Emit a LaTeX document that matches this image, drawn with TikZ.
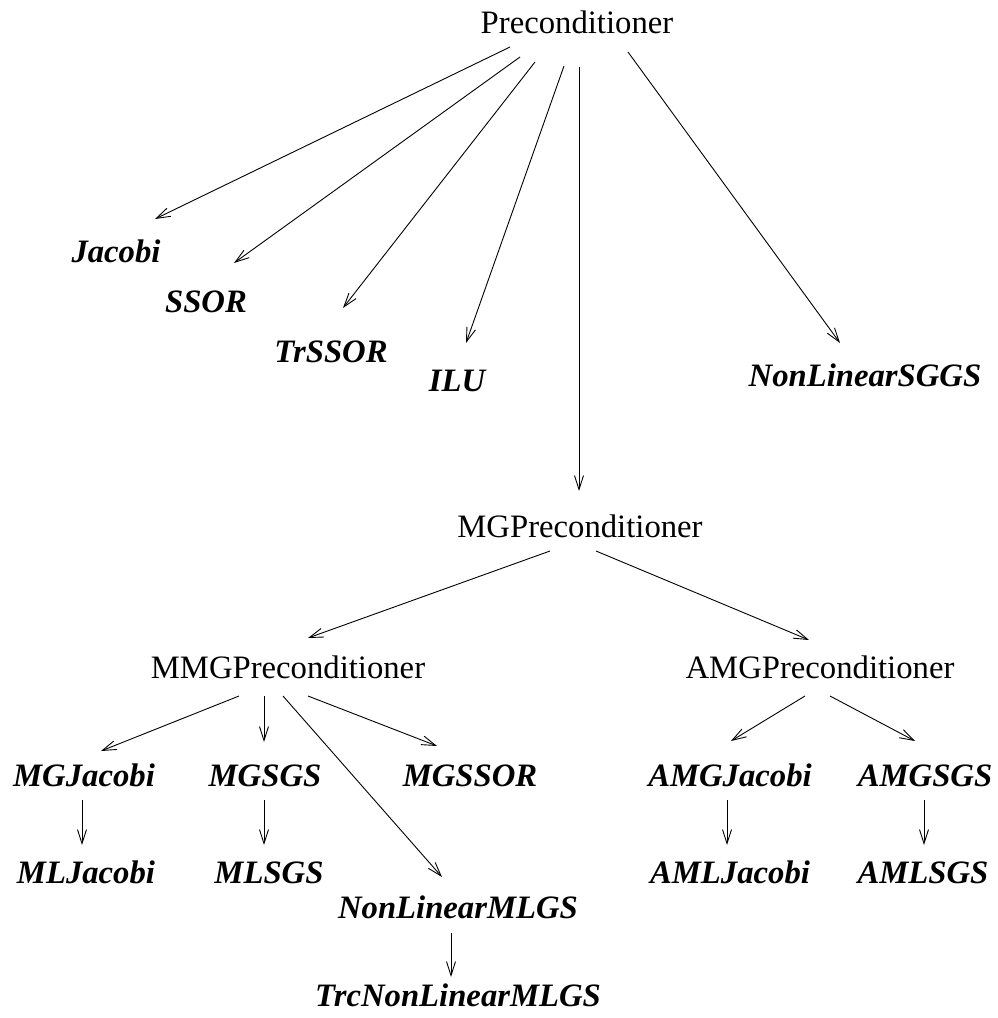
\documentclass[tikz,border=0pt]{standalone}
\usepackage{fontspec}
\setmainfont{Liberation Serif}
\usetikzlibrary{arrows.meta,calc}
\begin{document}
\begin{tikzpicture}[x=1pt,y=-1pt,
  lbl/.style={anchor=base,inner sep=0pt,font=\fontsize{32.7}{39}\selectfont},
  cls/.style={lbl,font=\fontsize{32.7}{39}\selectfont\bfseries\itshape},
  arr/.style={line width=0.9pt,-{Straight Barb[length=14pt,width=9pt,line width=0.9pt]}}]
\useasboundingbox (0,0) rectangle (998,1018);
\node[lbl] (pre) at (577,33) {Preconditioner};
\node[cls] (jac) at (116,262) {Jacobi};
\node[cls] (ssor) at (206,312) {SSOR};
\node[cls] (trssor) at (331,362) {TrSSOR};
\node[cls] (ilu) at (457,391) {ILU};
\node[cls] (nlsggs) at (865,386) {NonLinearSGGS};
\node[lbl] (mg) at (580,537) {MGPreconditioner};
\node[lbl] (mmg) at (288,678) {MMGPreconditioner};
\node[lbl] (amg) at (820,678) {AMGPreconditioner};
\node[cls] (mgjac) at (84,786) {MGJacobi};
\node[cls] (mgsgs) at (265,786) {MGSGS};
\node[cls] (mgssor) at (470,786) {MGSSOR};
\node[cls] (amgjac) at (730,786) {AMGJacobi};
\node[cls] (amgsgs) at (925,786) {AMGSGS};
\node[cls] (mljac) at (86,883) {MLJacobi};
\node[cls] (mlsgs) at (269,883) {MLSGS};
\node[cls] (amljac) at (730,883) {AMLJacobi};
\node[cls] (amlsgs) at (923,883) {AMLSGS};
\node[cls] (nlmlgs) at (458,918) {NonLinearMLGS};
\node[cls] (trc) at (458,1006) {TrcNonLinearMLGS};
% Preconditioner children
\draw[arr] ($(pre.base)+(-67,14)$) -- ($(jac.base)+(39,-43)$);
\draw[arr] ($(pre.base)+(-57,24)$) -- ($(ssor.base)+(28,-49)$);
\draw[arr] ($(pre.base)+(-42,29)$) -- ($(trssor.base)+(12,-54)$);
\draw[arr] ($(pre.base)+(-13,33)$) -- ($(ilu.base)+(9,-48)$);
\draw[arr] ($(pre.base)+(2,34)$) -- ($(mg.base)+(-1,-46)$);
\draw[arr] ($(pre.base)+(51,19)$) -- ($(nlsggs.base)+(-25,-43)$);
% MG children
\draw[arr] ($(mg.base)+(-30,14)$) -- ($(mmg.base)+(20,-40)$);
\draw[arr] ($(mg.base)+(16,14)$) -- ($(amg.base)+(-11,-38)$);
% MMG children
\draw[arr] ($(mmg.base)+(-49,18)$) -- ($(mgjac.base)+(17,-35)$);
\draw[arr] ($(mmg.base)+(-24,18)$) -- ($(mgsgs.base)+(-1,-44)$);
\draw[arr] ($(mmg.base)+(-5,18)$) -- ($(nlmlgs.base)+(-16,-41)$);
\draw[arr] ($(mmg.base)+(20,18)$) -- ($(mgssor.base)+(-33,-40)$);
% AMG children
\draw[arr] ($(amg.base)+(-15,18)$) -- ($(amgjac.base)+(1,-45)$);
\draw[arr] ($(amg.base)+(10,18)$) -- ($(amgsgs.base)+(-10,-45)$);
% vertical
\draw[arr] ($(mgjac.base)+(-2,14)$) -- ($(mljac.base)+(-4,-38)$);
\draw[arr] ($(mgsgs.base)+(-1,14)$) -- ($(mlsgs.base)+(-5,-38)$);
\draw[arr] ($(amgjac.base)+(-3,14)$) -- ($(amljac.base)+(-3,-38)$);
\draw[arr] ($(amgsgs.base)+(-1,14)$) -- ($(amlsgs.base)+(1,-38)$);
\draw[arr] ($(nlmlgs.base)+(-7,15)$) -- ($(trc.base)+(-7,-29)$);
\end{tikzpicture}
\end{document}
